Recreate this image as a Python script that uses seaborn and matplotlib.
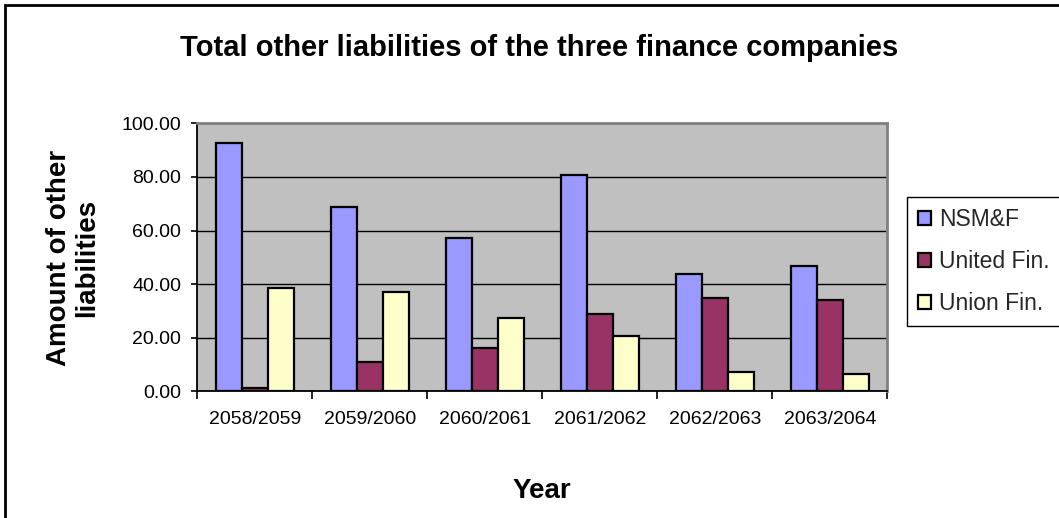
import matplotlib
matplotlib.use("Agg")
import matplotlib.pyplot as plt
from matplotlib.patches import Patch, Rectangle
from matplotlib.ticker import FixedLocator, FormatStrFormatter
import seaborn as sns
import pandas as pd

# Data: other liabilities of the three finance companies by fiscal year
years = ["2058/2059", "2059/2060", "2060/2061", "2061/2062", "2062/2063", "2063/2064"]
companies = ["NSM&F", "United Fin.", "Union Fin."]
nsmf = [92.5, 68.8, 57.1, 80.6, 43.6, 46.6]
united_fin = [1.4, 11.0, 16.2, 28.8, 34.7, 34.0]
union_fin = [38.4, 36.9, 27.2, 20.5, 7.3, 6.5]
colors = ["#9999FF", "#993366", "#FFFFCC"]

df = pd.DataFrame({
    "Year": years * 3,
    "Company": [c for c in companies for _ in years],
    "Value": nsmf + united_fin + union_fin,
})

sns.set_theme(style="white")
plt.rcParams["font.family"] = ["Liberation Sans", "DejaVu Sans"]

W, H = 1059, 518
fig = plt.figure(figsize=(W / 100, H / 100), dpi=100)
fig.patch.set_facecolor("white")

ax = fig.add_axes([197.3 / W, 1 - 391.3 / H, (887.3 - 197.3) / W, (391.3 - 123.3) / H])
sns.barplot(data=df, x="Year", y="Value", hue="Company", hue_order=companies,
            order=years, palette=colors, width=0.68, edgecolor="black",
            linewidth=1.6, saturation=1, legend=False, ax=ax, zorder=3)

ax.set_facecolor("#C0C0C0")
ax.set_ylim(0, 100)
ax.set_xlim(-0.5, len(years) - 0.5)
ax.set_yticks([0, 20, 40, 60, 80, 100])
ax.yaxis.set_major_formatter(FormatStrFormatter("%.2f"))
ax.yaxis.grid(True, color="black", linewidth=1.0)
ax.set_axisbelow(True)

ax.xaxis.set_minor_locator(FixedLocator([i - 0.5 for i in range(len(years) + 1)]))
ax.tick_params(axis="x", which="major", length=0, pad=14, labelsize=14, colors="black")
ax.tick_params(axis="x", which="minor", length=6, width=1.2, color="black", direction="out", bottom=True)
ax.tick_params(axis="y", which="major", length=4.5, width=1.2, color="black", direction="out",
               left=True, pad=7, labelsize=14, labelcolor="black")

for side in ("left", "bottom"):
    ax.spines[side].set_color("black")
    ax.spines[side].set_linewidth(1.3)
for side in ("top", "right"):
    ax.spines[side].set_color("#808080")
    ax.spines[side].set_linewidth(2)

ax.set_xlabel("")
ax.set_ylabel("")

fig.text(539 / W, 1 - 55.7 / H, "Total other liabilities of the three finance companies",
         ha="center", va="baseline", fontsize=21, fontweight="bold", color="black")
fig.text(542 / W, 1 - 497.5 / H, "Year", ha="center", va="baseline",
         fontsize=20, fontweight="bold", color="black")
fig.text(73 / W, 1 - 257.5 / H, "Amount of other\nliabilities", ha="center", va="center",
         rotation=90, fontsize=20, fontweight="bold", color="black", linespacing=1.15)

# Legend box runs slightly past the right edge of the figure
handles = [Patch(facecolor=c, edgecolor="black", linewidth=1.6) for c in colors]
leg = fig.legend(handles, companies, loc="upper left", mode="expand",
                 bbox_to_anchor=(907.3 / W, 1 - 197.3 / H, (1075 - 907.3) / W, 0),
                 borderaxespad=0, fontsize=16.5, frameon=True, fancybox=False, shadow=False,
                 handlelength=0.57, handleheight=0.57, handletextpad=0.35,
                 labelspacing=0.83, borderpad=0.48)
leg.get_frame().set_edgecolor("black")
leg.get_frame().set_linewidth(1.0)
leg.get_frame().set_facecolor("white")
leg.get_frame().set_alpha(1)

# Outer chart frame, running off the right and bottom edges
fig.add_artist(Rectangle((5 / W, -0.2), 1.2, 1.2 - 5 / H, transform=fig.transFigure,
                         fill=False, edgecolor="black", linewidth=2, clip_on=False))

fig.savefig("out.png", dpi=100, facecolor="white")
